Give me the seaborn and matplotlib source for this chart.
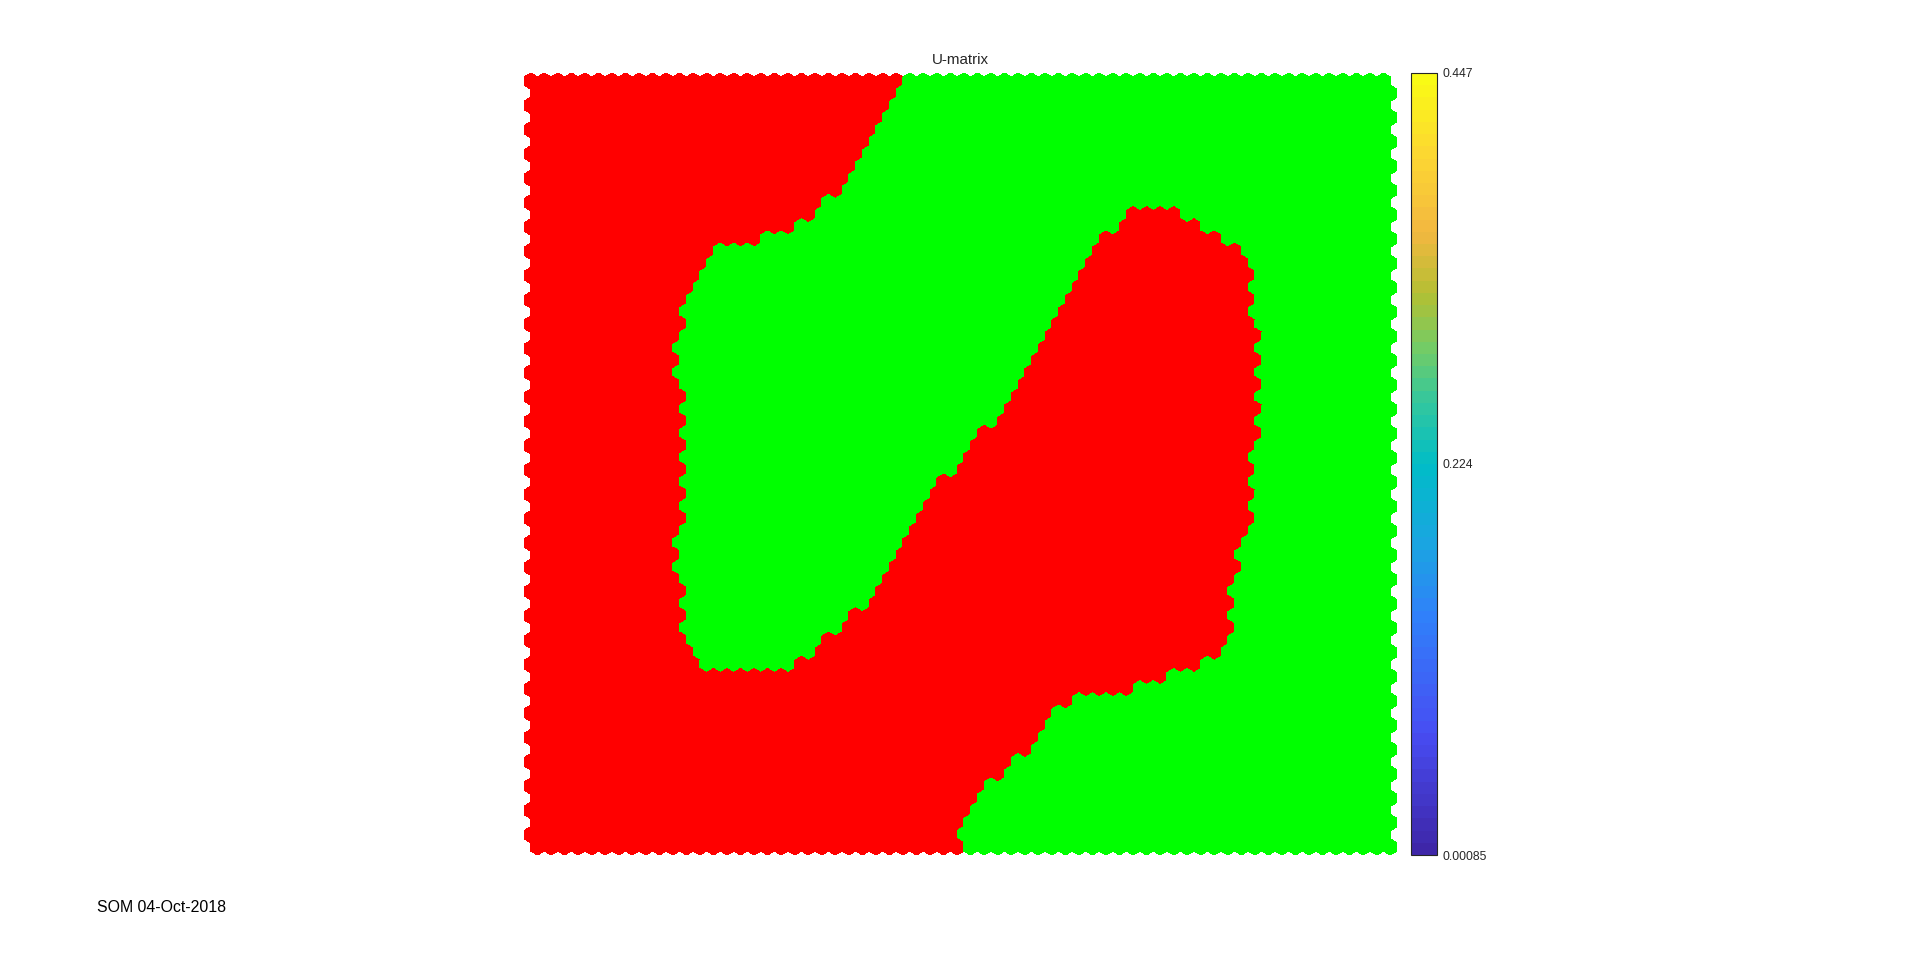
import numpy as np
import matplotlib
matplotlib.use("Agg")
import matplotlib.pyplot as plt
from matplotlib.collections import PolyCollection
from matplotlib.colors import ListedColormap, Normalize
from matplotlib.cm import ScalarMappable
import seaborn as sns

# SOM map size (hexagonal lattice, odd rows shifted by half a unit)
n_rows = 64
n_cols = 64

# per-row cluster runs:
# cols < green_start -> red, green_start..band_start -> green,
# band_start..band_end -> red, >= band_end -> green
green_start = [28, 27, 27, 26, 26, 25, 25, 24, 24, 23, 22,
               21, 20, 17, 14, 13, 13, 12, 12, 11, 12,
               11, 11, 11, 11, 11, 12, 11, 12, 11, 12,
               11, 12, 11, 12, 11, 12, 11, 11, 11, 11,
               11, 12, 11, 12, 11, 12, 12, 13,
               0, 0, 0, 0, 0, 0, 0, 0, 0, 0, 0, 0, 0, 0, 0]
band_start = [64, 64, 64, 64, 64, 64, 64, 64, 64, 64, 64,
              44, 44, 42, 42, 41, 41, 40, 40, 39, 39,
              38, 38, 37, 37, 36, 36, 35, 35, 33, 33,
              32, 32, 30, 30, 29, 29, 28, 28, 27, 27,
              26, 26, 25, 24, 23, 22, 21, 20,
              0, 0, 0, 0, 0, 0, 0, 0, 0, 0, 0, 0, 0, 0, 0]
band_end = [64, 64, 64, 64, 64, 64, 64, 64, 64, 64, 64,
            48, 50, 51, 53, 53, 54, 53, 54, 53, 54,
            54, 54, 54, 54, 54, 54, 54, 54, 54, 54,
            53, 54, 53, 54, 53, 54, 53, 53, 52, 53,
            52, 52, 52, 52, 52, 52, 51, 50,
            47, 45, 40, 39, 38, 38, 37, 36, 35, 34, 33, 33, 32, 32, 32]

cluster_colors = ["#ff0000", "#00ff00"]

# U-matrix colour scale
umat_min = 0.00085
umat_max = 0.447
cbar_labels = ["0.00085", "0.224", "0.447"]

title = "U-matrix"
footer = "SOM 04-Oct-2018"

# old matlab parula, by eye
parula = [(0.2422, 0.1504, 0.6603), (0.2800, 0.3000, 0.9500),
          (0.1900, 0.5000, 0.9800), (0.1000, 0.6500, 0.8800),
          (0.0000, 0.7400, 0.7800), (0.2000, 0.7800, 0.6200),
          (0.4500, 0.8000, 0.4000), (0.7000, 0.7500, 0.2000),
          (0.9500, 0.7200, 0.2500), (0.9900, 0.8400, 0.2000),
          (0.9769, 0.9839, 0.0805)]
parula_pos = [0.0, 0.15, 0.3, 0.4, 0.5, 0.58, 0.65, 0.72, 0.8, 0.9, 1.0]

sns.set_style("white")
plt.rcParams['font.family'] = ['Liberation Sans', 'DejaVu Sans']

labels = np.zeros((n_rows, n_cols), dtype=int)
cols = np.arange(n_cols)
for i in range(n_rows):
    green = ((cols >= green_start[i]) & (cols < band_start[i])) | (cols >= band_end[i])
    labels[i, green] = 1

r3 = np.sqrt(3)
hexagon = np.array([[0, 1 / r3], [0.5, 0.5 / r3], [0.5, -0.5 / r3],
                    [0, -1 / r3], [-0.5, -0.5 / r3], [-0.5, 0.5 / r3]])
ii, jj = np.meshgrid(np.arange(n_rows), np.arange(n_cols), indexing="ij")
cx = jj + 0.5 * (ii % 2)
cy = -ii * np.sqrt(0.75)
centers = np.stack([cx.ravel(), cy.ravel()], axis=1)
verts = centers[:, None, :] + hexagon[None, :, :]

W, H = 1920, 963
fig = plt.figure(figsize=(W / 100, H / 100), dpi=100)
ax = fig.add_axes([524 / W, 1 - 855 / H, 873 / W, 782 / H])

facecolors = [cluster_colors[k] for k in labels.ravel()]
coll = PolyCollection(verts, facecolors=facecolors, edgecolors="none",
                      linewidths=0, antialiaseds=False)
ax.add_collection(coll)
ax.set_xlim(-0.5, n_cols)
ax.set_ylim(-(n_rows - 1) * np.sqrt(0.75) - 1 / r3, 1 / r3)
ax.axis("off")
ax.set_title(title, fontsize=10.9, pad=6.5, color="#262626")

# colorbar with 64 discrete steps like matlab
cax = fig.add_axes([1410.5 / W, 1 - 855 / H, 26 / W, 782 / H])
smooth = sns.blend_palette(parula, n_colors=256)
pos = np.linspace(0, 1, 64)
steps = [smooth[int(round(np.interp(p, parula_pos, np.linspace(0, 1, len(parula_pos))) * 255))] for p in pos]
cmap = ListedColormap(steps)
sm = ScalarMappable(norm=Normalize(umat_min, umat_max), cmap=cmap)
cb = fig.colorbar(sm, cax=cax)
cb.set_ticks([umat_min, (umat_min + umat_max) / 2, umat_max])
cb.set_ticklabels(cbar_labels)
cb.outline.set_edgecolor("#262626")
cb.outline.set_linewidth(0.8)
cax.tick_params(direction="in", length=4.3, width=0.75, pad=4.3,
                labelsize=8.7, colors="#262626")

fig.text(96.7 / W, 1 - 911.7 / H, footer, ha="left", va="baseline",
         fontsize=11.4, color="black")

fig.savefig("out.png", dpi=100)
